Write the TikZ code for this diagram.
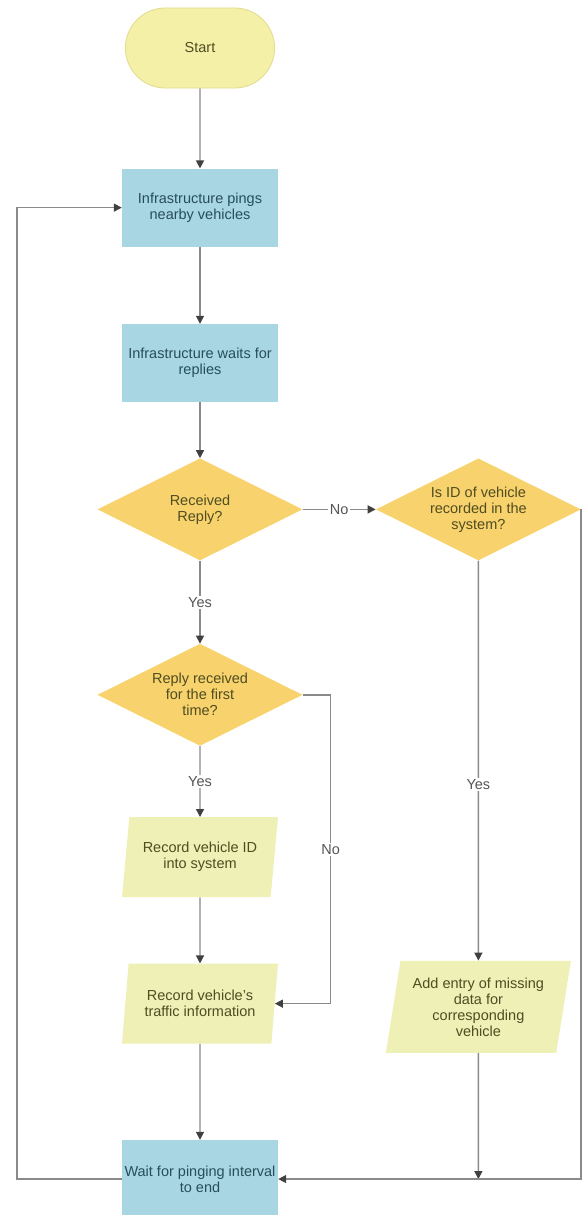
\documentclass[tikz,border=0pt]{standalone}
\usepackage{fontspec}
\setmainfont{Liberation Sans}
\usepackage{tikz}
\usetikzlibrary{arrows.meta, calc, shapes.geometric, shapes.misc, positioning}

\definecolor{termfill}{HTML}{F5F0A8}
\definecolor{termline}{HTML}{E2DA8C}
\definecolor{procfill}{HTML}{A9D6E3}
\definecolor{decfill}{HTML}{F8D26C}
\definecolor{iofill}{HTML}{EEF0B6}
\definecolor{linegray}{HTML}{8A8A8A}
\definecolor{tipgray}{HTML}{404040}
\definecolor{bluetext}{HTML}{264E5A}
\definecolor{olivetext}{HTML}{4F4D22}
\definecolor{lbltext}{HTML}{555555}

\begin{document}
\begin{tikzpicture}[
  x=1pt, y=-1pt,
  font=\fontsize{14.5}{16}\selectfont,
  term/.style={rounded rectangle, draw=termline, line width=0.8pt, fill=termfill,
               minimum width=156pt, minimum height=80pt, text=olivetext},
  proc/.style={rectangle, fill=procfill, minimum width=156pt, minimum height=78pt,
               inner sep=0pt, align=center, text=bluetext},
  decision/.style={diamond, aspect=2, fill=decfill, inner sep=0pt,
                   minimum width=205pt, minimum height=102pt, align=center, text=olivetext},
  io/.style={trapezium, trapezium left angle=76, trapezium right angle=104,
             trapezium stretches body, fill=iofill, inner sep=0pt,
             minimum width=156pt, minimum height=80pt, align=center, text=olivetext},
  arr/.style={-{Triangle[length=8pt, width=8pt, color=tipgray]}, draw=linegray, line width=1.4pt},
  lbl/.style={fill=white, inner sep=1.5pt, text=lbltext}
]
  \useasboundingbox (0,0) rectangle (581,1215);

  \node[term] (start) at (200,48) {Start};
  \node[proc, below=80pt of start] (ping) {Infrastructure pings\\nearby vehicles};
  \node[proc, below=77pt of ping] (replies) {Infrastructure waits for\\replies};
  \node[decision, below=56pt of replies] (gotreply) {Received\\Reply?};
  \node[decision, right=73pt of gotreply] (known) {Is ID of vehicle\\recorded in the\\system?};
  \node[decision, below=83pt of gotreply] (first) {Reply received\\for the first\\time?};
  \node[io, below=71pt of first] (recid) {Record vehicle ID\\into system};
  \node[io, below=66pt of recid] (rectraffic) {Record vehicle's\\traffic information};
  \node[io, minimum width=185pt, minimum height=92pt, below=400pt of known] (missing)
    {Add entry of missing\\data for\\corresponding\\vehicle};
  \node[proc, below=96pt of rectraffic] (pause) {Wait for pinging interval\\to end};

  \coordinate (merge) at (missing |- pause.east);

  \draw[arr] (start) -- (ping);
  \draw[arr] (ping) -- (replies);
  \draw[arr] (replies) -- (gotreply);
  \draw[arr] (gotreply) -- node[lbl] {No} (known);
  \draw[arr] (gotreply) -- node[lbl] {Yes} (first);
  \draw[arr] (first) -- node[lbl] {Yes} (recid);
  \draw[arr] (recid) -- (rectraffic);
  \draw[arr] (first.east) -- ++(28,0) |- node[lbl, pos=0.25] {No} (rectraffic.east);
  \draw[arr] (known) -- node[lbl, pos=0.56] {Yes} (missing);
  \draw[arr] (rectraffic) -- (pause);
  \draw[arr] (missing) -- (merge);
  \draw[arr] (known.east) -- (known.east |- pause.east) -- (pause.east);

  % loop back to the pings
  \draw[arr] (pause.west) -- ++(-105,0) |- (ping.west);
\end{tikzpicture}
\end{document}
